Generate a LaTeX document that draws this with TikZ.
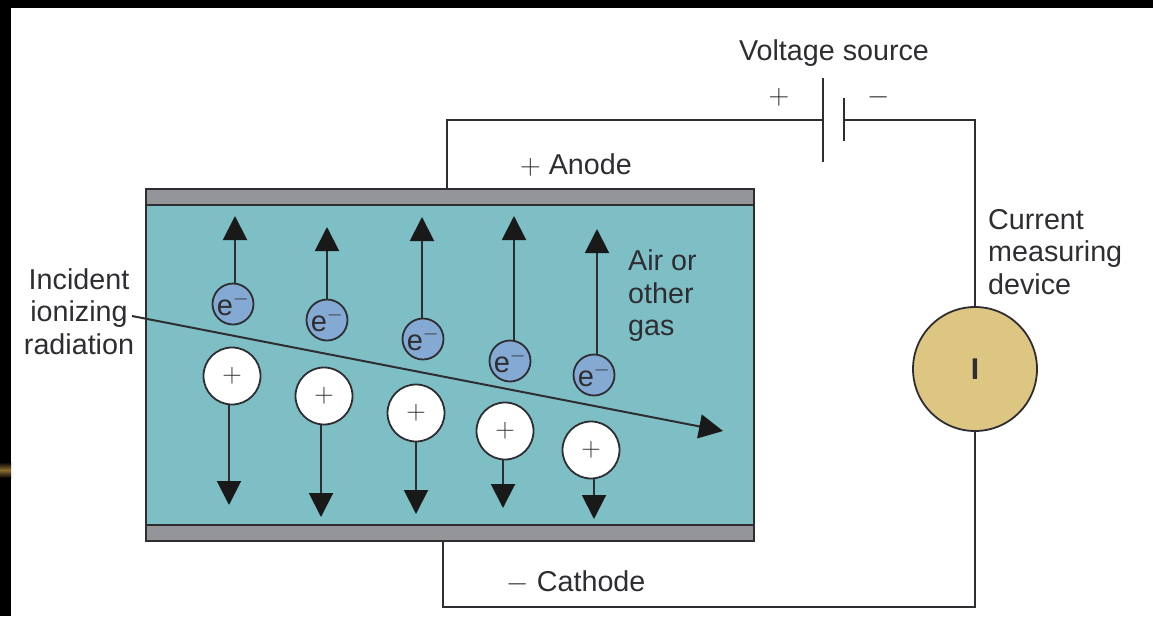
\documentclass[tikz,border=0pt]{standalone}
\usepackage{fix-cm}
\usepackage{fontspec}
\setmainfont{Liberation Sans}
\usepackage{xcolor}
\usetikzlibrary{arrows.meta}
\definecolor{gas}{HTML}{7DBFC5}
\definecolor{plate}{HTML}{939598}
\definecolor{ink}{HTML}{2E2E32}
\definecolor{blob}{HTML}{84A9D2}
\definecolor{meter}{HTML}{DCC681}
\definecolor{streak}{HTML}{8A6C30}
\tikzset{
  wire/.style={ink,line width=1.8pt},
  elec/.style={circle,draw=ink,fill=blob,line width=1.8pt,minimum size=41pt,inner sep=0pt,text=ink,font=\fontsize{29}{29}\selectfont},
  ion/.style={circle,draw=ink,fill=white,line width=1.8pt,minimum size=57pt,inner sep=0pt,text=ink,font=\fontsize{27}{27}\selectfont},
  drift/.style={line width=2pt,color=ink,-{Triangle[length=24pt,width=24pt,color=black!90]}},
  lbl/.style={text=ink,font=\fontsize{28.7}{32.5}\selectfont,inner sep=0pt},
  slab/.style={rectangle,draw=ink,fill=plate,line width=2pt,minimum width=608pt,minimum height=16pt,inner sep=0pt}
}
\begin{document}
\begin{tikzpicture}[x=1pt,y=-1pt]
  \useasboundingbox (0,0) rectangle (1153,616);
  \fill[black] (0,0) rectangle (1153,616);
  \fill[white] (11,8) rectangle (1153,616);
  \shade[top color=black,bottom color=black,middle color=streak] (0,462) rectangle (11,478);

  \fill[gas] (146,205) rectangle (754,524);
  \draw[ink,line width=2pt] (146,205) -- (146,524) (754,205) -- (754,524);
  \node[slab] (anode) at (450,196.5) {};
  \node[slab] (cathode) at (450,532.5) {};

  \coordinate (wa) at (447,120);
  \coordinate (wb) at (975,120);
  \coordinate (wc) at (975,607);
  \coordinate (wd) at (443,607);
  \coordinate (pa) at (823,120);
  \coordinate (pb) at (844,120);
  \node[circle,draw=ink,fill=meter,line width=1.8pt,minimum size=124pt,inner sep=0pt,font=\fontsize{30}{30}\selectfont\bfseries,text=ink] (dev) at (975,369) {I};
  \draw[wire] (anode.north -| wa) -- (wa) -- (pa);
  \draw[wire] (823,78) -- (823,162);
  \draw[wire] (844,98) -- (844,141);
  \draw[wire] (pb) -- (wb) -- (dev.north);
  \draw[wire] (dev.south) -- (wc) -- (wd) -- (cathode.south -| wd);

  \node[elec] (e1) at (233,304) {e$^-$};
  \node[elec] (e2) at (327,320) {e$^-$};
  \node[elec] (e3) at (423,339) {e$^-$};
  \node[elec] (e4) at (510,361) {e$^-$};
  \node[elec] (e5) at (594,375) {e$^-$};
  \node[ion] (i1) at (232,376) {$+$};
  \node[ion] (i2) at (324,396) {$+$};
  \node[ion] (i3) at (416,413) {$+$};
  \node[ion] (i4) at (505,431) {$+$};
  \node[ion] (i5) at (591,450) {$+$};

  \coordinate (u1) at (235,216);
  \coordinate (u2) at (327,227);
  \coordinate (u3) at (422,217);
  \coordinate (u4) at (514,216);
  \coordinate (u5) at (597,229);
  \draw[drift] (e1.north -| u1) -- (u1);
  \draw[drift] (e2.north -| u2) -- (u2);
  \draw[drift] (e3.north -| u3) -- (u3);
  \draw[drift] (e4.north -| u4) -- (u4);
  \draw[drift] (e5.north -| u5) -- (u5);
  \coordinate (d1) at (229,505);
  \coordinate (d2) at (321,517);
  \coordinate (d3) at (416,514);
  \coordinate (d4) at (503,508);
  \coordinate (d5) at (594,519);
  \draw[drift] (i1.south -| d1) -- (d1);
  \draw[drift] (i2.south -| d2) -- (d2);
  \draw[drift] (i3.south -| d3) -- (d3);
  \draw[drift] (i4.south -| d4) -- (d4);
  \draw[drift] (i5.south -| d5) -- (d5);

  \node[lbl,align=center] (rad) at (79,311.5) {Incident\\ionizing\\radiation};
  \coordinate (rtip) at (723,431);
  \coordinate (rtail) at (132,316);
  \draw[drift] (rtail) -- (rtip);

  \node[lbl] (src) at (834,53.5) {Voltage source};
  \node[lbl] (pl) at (779,97) {$+$};
  \node[lbl] (mi) at (879,97) {$-$};
  \node[lbl] (ano) at (576,165) {$+$ Anode};
  \node[lbl] (cat) at (576,582) {$-$ Cathode};
  \node[lbl,align=left,anchor=west] (cur) at (988,252) {Current\\measuring\\device};
  \node[lbl,align=left,anchor=west] (air) at (628,296) {Air or\\other\\gas};
\end{tikzpicture}
\end{document}
